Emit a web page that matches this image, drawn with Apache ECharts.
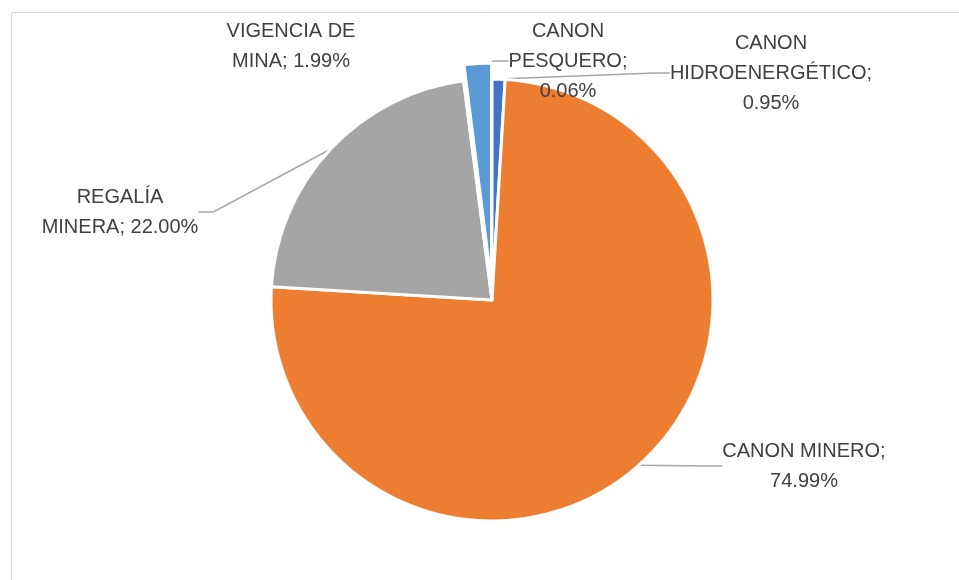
<!DOCTYPE html>
<html>
    <head>
        <meta charset="utf-8" />
        <script src="https://cdn.jsdelivr.net/npm/echarts@6/dist/echarts.min.js"></script>
        <style>
            html,
            body {
                margin: 0;
                padding: 0;
                background: #fff;
            }
            #main {
                width: 959px;
                height: 580px;
            }
        </style>
    </head>
    <body>
        <div id="main"></div>
        <script>
            // slices in drawing order, clockwise from 12 o'clock
            var names = [
                "CANON HIDROENERGÉTICO",
                "CANON MINERO",
                "REGALÍA MINERA",
                "CANON PESQUERO",
                "VIGENCIA DE MINA"
            ];
            var values = [0.95, 74.99, 22.0, 0.06, 1.99];
            var colors = ["#4472C4", "#ED7D31", "#A5A5A5", "#FFC000", "#5B9BD5"];
            // how each label breaks into lines (last line gets the percent)
            var labelText = [
                "CANON\nHIDROENERGÉTICO;\n",
                "CANON MINERO;\n",
                "REGALÍA\nMINERA; ",
                "CANON\nPESQUERO;\n",
                "VIGENCIA DE\nMINA; "
            ];
            // label anchor points (centre of the text block)
            var labelPos = [
                [771, 73],
                [804, 466],
                [120, 212],
                [568, 61],
                [291, 46]
            ];
            var exploded = 4; // the slice pulled out of the pie

            var chart = echarts.init(document.getElementById("main"));

            var mainData = [];
            var popData = [];
            for (var i = 0; i < names.length; i++) {
                var out = i === exploded;
                mainData.push({
                    name: names[i],
                    value: values[i],
                    itemStyle: out
                        ? { color: "transparent", borderWidth: 0 }
                        : { color: colors[i] },
                    labelLine: { show: !out }
                });
                popData.push({
                    name: names[i],
                    value: values[i],
                    itemStyle: out
                        ? { color: colors[i] }
                        : { color: "transparent", borderWidth: 0 }
                });
            }

            chart.setOption({
                animation: false,
                graphic: [
                    {
                        type: "rect",
                        shape: { x: 11.5, y: 12.5, width: 1000, height: 1000 },
                        style: { fill: "none", stroke: "#d9d9d9", lineWidth: 1 },
                        silent: true
                    }
                ],
                series: [
                    {
                        type: "pie",
                        center: [492, 300],
                        radius: 221,
                        startAngle: 90,
                        clockwise: true,
                        avoidLabelOverlap: false,
                        itemStyle: {
                            borderColor: "#fff",
                            borderWidth: 3
                        },
                        label: {
                            show: true,
                            fontFamily: "Liberation Sans",
                            fontSize: 20,
                            lineHeight: 30,
                            color: "#404040",
                            align: "center",
                            formatter: function (p) {
                                return labelText[p.dataIndex] + p.value.toFixed(2) + "%";
                            }
                        },
                        labelLine: {
                            show: true,
                            length: 10,
                            length2: 15,
                            lineStyle: { color: "#a6a6a6", width: 1.5 }
                        },
                        labelLayout: function (p) {
                            var pos = labelPos[p.dataIndex];
                            return {
                                x: pos[0],
                                y: pos[1],
                                align: "center",
                                verticalAlign: "middle"
                            };
                        },
                        emphasis: { disabled: true },
                        data: mainData
                    },
                    {
                        // same pie, moved up a little, showing only the exploded slice
                        type: "pie",
                        center: [491.5, 284],
                        radius: 221,
                        startAngle: 90,
                        clockwise: true,
                        silent: true,
                        itemStyle: {
                            borderColor: "#fff",
                            borderWidth: 3
                        },
                        label: { show: false },
                        labelLine: { show: false },
                        emphasis: { disabled: true },
                        data: popData
                    }
                ]
            });
        </script>
    </body>
</html>
